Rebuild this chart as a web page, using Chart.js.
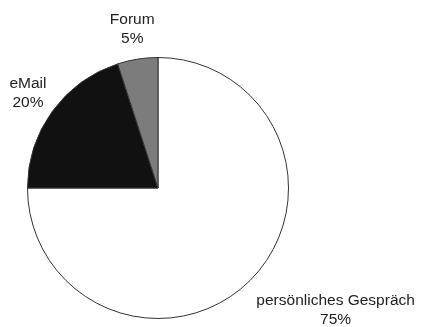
<!DOCTYPE html>
<html>
<head>
<meta charset="utf-8">
<script src="https://cdn.jsdelivr.net/npm/chart.js@4"></script>
<style>
  html, body { margin: 0; background: #fff; }
  #wrap { width: 423px; height: 327px; }
</style>
</head>
<body>
<div id="wrap"><canvas id="myChart"></canvas></div>
<script>
"use strict";

const categories = ["persönliches Gespräch", "eMail", "Forum"];
const shares = [75, 20, 5];

const white = "#ffffff";
const black = "#111111";
const grey = "#7c7c7c";
const outline = "#333333";
const textColor = "#222222";

// draws "name / xx%" outside each slice, pushed away along the slice's mid angle
const outsideLabels = {
  id: "outsideLabels",
  afterDatasetsDraw(chart, args, opts) {
    const c = chart.ctx;
    const arcs = chart.getDatasetMeta(0).data;
    const lineH = opts.lineHeight;
    c.save();
    c.font = opts.font;
    c.fillStyle = textColor;
    c.textAlign = "center";
    c.textBaseline = "middle";
    arcs.forEach((arc, i) => {
      const mid = (arc.startAngle + arc.endAngle) / 2;
      const r = arc.outerRadius * opts.distance;
      const lines = [categories[i], shares[i] + "%"];
      const w = Math.max(...lines.map((l) => c.measureText(l).width));
      const h = lines.length * lineH;
      const nudge = opts.nudge[i] || [0, 0];
      const cx = arc.x + Math.cos(mid) * (r + w / 2) + nudge[0];
      const cy = arc.y + Math.sin(mid) * r + (Math.sin(mid) * h) / 2 + nudge[1];
      lines.forEach((l, j) => {
        c.fillText(l, cx, cy + (j - (lines.length - 1) / 2) * lineH);
      });
    });
    c.restore();
  },
};

const config = {
  type: "pie",
  data: {
    labels: categories,
    datasets: [
      {
        data: shares,
        backgroundColor: [white, black, grey],
        borderColor: outline,
        borderWidth: 1,
      },
    ],
  },
  options: {
    responsive: true,
    maintainAspectRatio: false,
    animation: false,
    layout: {
      padding: { left: 27, right: 134, top: 57, bottom: 8 },
    },
    plugins: {
      legend: { display: false },
      tooltip: { enabled: false },
      outsideLabels: {
        font: "15.5px 'Liberation Sans', Arial, sans-serif",
        lineHeight: 19,
        distance: 1.09,
        nudge: { 0: [21, 8] },
      },
    },
  },
  plugins: [outsideLabels],
};

new Chart(document.getElementById("myChart"), config);
</script>
</body>
</html>
